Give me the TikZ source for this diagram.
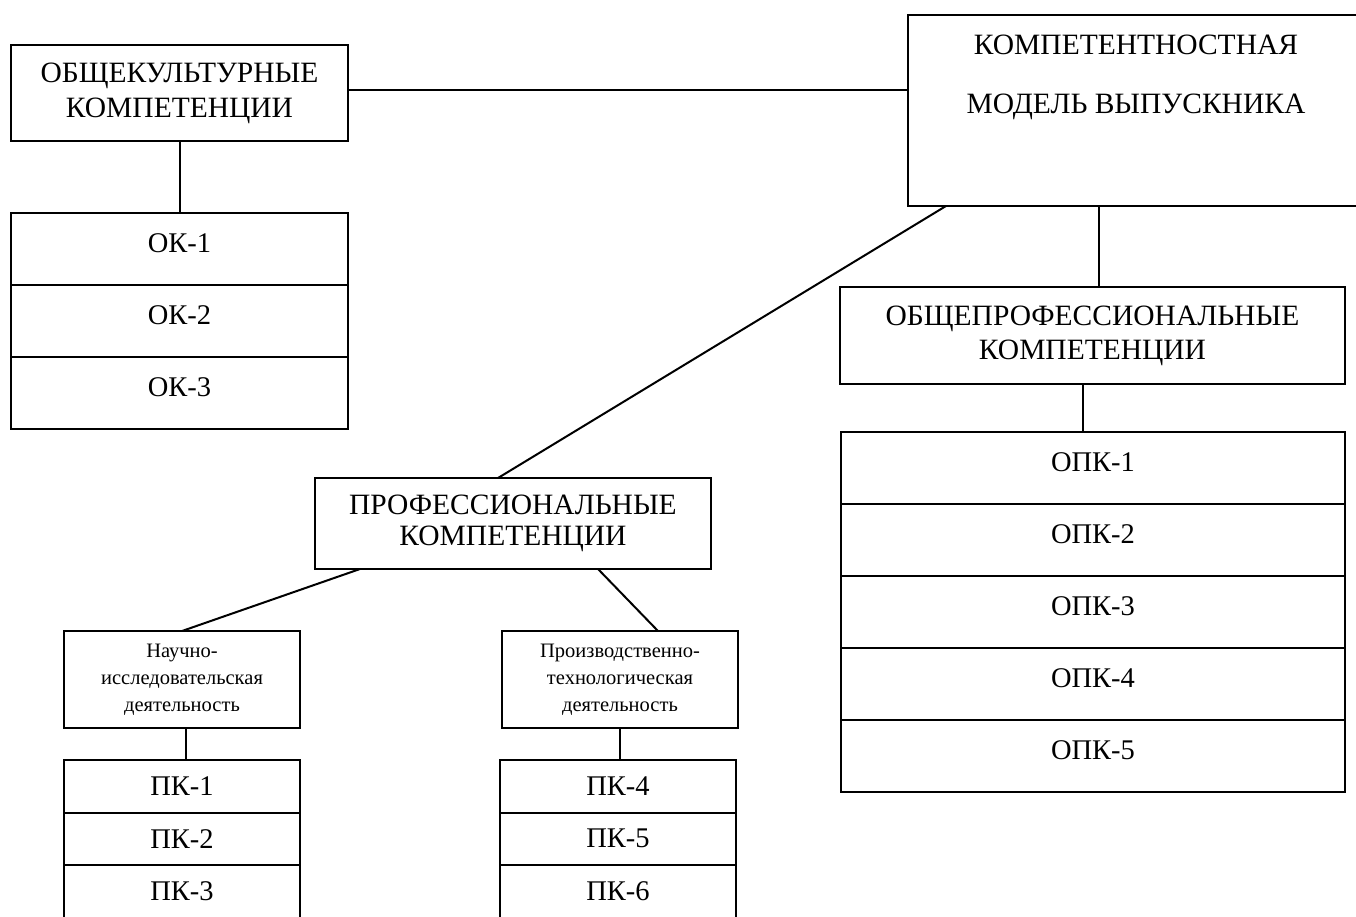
\documentclass[tikz,border=0pt]{standalone}
\usepackage{fontspec}
\setmainfont{Liberation Serif}
\usepackage{tikz}
\usetikzlibrary{positioning,calc}

\begin{document}
\begin{tikzpicture}[
  x=1pt, y=-1pt,
  box/.style={draw, line width=2pt, outer sep=0pt, inner sep=2pt, align=center},
  head/.style={box, font={\fontsize{29.5}{35}\selectfont}},
  kind/.style={box, font={\fontsize{20.5}{27}\selectfont}, minimum width=236pt, minimum height=97pt},
  cell/.style={box, font={\fontsize{28.5}{34}\selectfont}},
  okcell/.style={cell, minimum width=337pt, minimum height=72pt, text height=19pt, text depth=12pt},
  opkcell/.style={cell, minimum width=504pt, minimum height=72pt, text height=19pt, text depth=12pt},
  pkcell/.style={cell, minimum width=236pt, minimum height=52.5pt},
  link/.style={line width=2pt},
  ]
  \useasboundingbox (0,0) rectangle (1356,916);
  \clip (0,0) rectangle (1356,916);
  \fill[white] (0,0) rectangle (1356,916);

  % Graduate model and general cultural block.
  \node[box, anchor=north west, minimum width=460pt, minimum height=191pt] (model) at (908,15) {};
  \node[font={\fontsize{29.5}{59}\selectfont}, align=center, anchor=north, inner sep=0pt]
    (modeltitle) at ($(model.north)+(-2,20)$) {КОМПЕТЕНТНОСТНАЯ\\МОДЕЛЬ ВЫПУСКНИКА};
  \node[head, anchor=north west, minimum width=337pt, minimum height=96pt] (okhead) at (11,45)
    {ОБЩЕКУЛЬТУРНЫЕ\\КОМПЕТЕНЦИИ};
  \node[okcell, anchor=north west] (ok1) at (11,213) {ОК-1};
  \node[okcell, below=0pt of ok1] (ok2) {ОК-2};
  \node[okcell, below=0pt of ok2] (ok3) {ОК-3};
  \draw[link] ([yshift=3pt]okhead.east) -- ([yshift=3pt]okhead.east -| model.west);
  \draw[link] (okhead) -- (ok1);

  % General professional block, under the model.
  \node[head, anchor=north west, minimum width=505pt, minimum height=97pt,
    font={\fontsize{29.5}{34}\selectfont}] (opkhead) at (840,287) {ОБЩЕПРОФЕССИОНАЛЬНЫЕ\\КОМПЕТЕНЦИИ};
  \node[opkcell, anchor=north west] (opk1) at (841,432) {ОПК-1};
  \node[opkcell, below=0pt of opk1] (opk2) {ОПК-2};
  \node[opkcell, below=0pt of opk2] (opk3) {ОПК-3};
  \node[opkcell, below=0pt of opk3] (opk4) {ОПК-4};
  \node[opkcell, below=0pt of opk4] (opk5) {ОПК-5};
  \draw[link] ([xshift=6pt]opkhead.north) -- ([xshift=6pt]opkhead.north |- model.south);
  \draw[link] ([xshift=-10pt]opkhead.south) -- ([xshift=-10pt]opkhead.south |- opk1.north);

  % Professional block with its two kinds of activity.
  \node[head, anchor=north west, minimum width=396pt, minimum height=91pt,
    font={\fontsize{29.5}{31}\selectfont}] (prof) at (315,478) {ПРОФЕССИОНАЛЬНЫЕ\\КОМПЕТЕНЦИИ};
  \draw[link] ([xshift=38pt]model.south west) -- ([xshift=-15pt]prof.north);

  \node[kind, anchor=north west] (nauch) at (64,631) {Научно-\\исследовательская\\деятельность};
  \node[kind, anchor=north west] (proizv) at (502,631) {Производственно-\\технологическая\\деятельность};
  \draw[link] ([xshift=45pt]prof.south west) -- (nauch.north);
  \draw[link] ([xshift=-113pt]prof.south east) -- ([xshift=38pt]proizv.north);

  \node[pkcell, anchor=north west] (pk1) at (64,760) {ПК-1};
  \node[pkcell, below=0pt of pk1] (pk2) {ПК-2};
  \node[pkcell, below=0pt of pk2] (pk3) {ПК-3};
  \node[pkcell, anchor=north west] (pk4) at (500,760) {ПК-4};
  \node[pkcell, below=0pt of pk4] (pk5) {ПК-5};
  \node[pkcell, below=0pt of pk5] (pk6) {ПК-6};
  \draw[link] ([xshift=4pt]nauch.south) -- ([xshift=4pt]nauch.south |- pk1.north);
  \draw[link] (proizv.south) -- (proizv.south |- pk4.north);
\end{tikzpicture}
\end{document}
